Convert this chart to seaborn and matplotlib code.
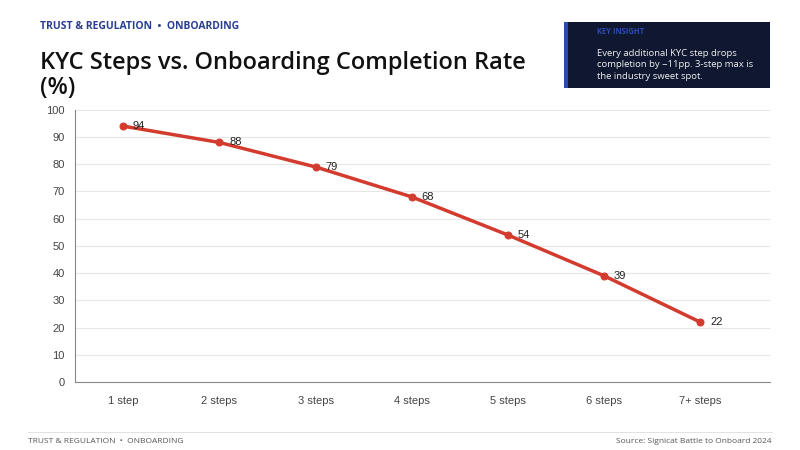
import pandas as pd
import matplotlib.pyplot as plt
import seaborn as sns
from matplotlib.patches import Rectangle

steps = ['1 step', '2 steps', '3 steps', '4 steps', '5 steps', '6 steps', '7+ steps']
completion = [94, 88, 79, 68, 54, 39, 22]

df = pd.DataFrame({'step': steps, 'rate': completion})
df['pos'] = range(len(steps))

sns.set_style('white')
plt.rcParams['font.family'] = ['Open Sans', 'DejaVu Sans']

fig = plt.figure(figsize=(8, 4.5), dpi=100)
ax = fig.add_axes([0.094, 0.151, 0.868, 0.605])

sns.lineplot(data=df, x='pos', y='rate', ax=ax, color='#d23b2e', linewidth=2.5,
             marker='o', markersize=5, markeredgecolor='#d23b2e')
for p, v in zip(df['pos'], df['rate']):
    ax.text(p + 0.1, v, str(v), va='center', ha='left', fontsize=8,
            family='Liberation Sans', color='#222222')

ax.set_xlim(-0.5, 6.72)
ax.set_ylim(0, 100)
ax.set_yticks(range(0, 101, 10))
ax.set_xticks(df['pos'])
ax.set_xticklabels(steps)
ax.set_xlabel('')
ax.set_ylabel('')
ax.grid(axis='y', color='#e6e6e6', linewidth=0.8)
for s in ['top', 'right']:
    ax.spines[s].set_visible(False)
for s in ['left', 'bottom']:
    ax.spines[s].set_color('#888888')
    ax.spines[s].set_linewidth(0.8)
ax.tick_params(axis='both', labelsize=8, colors='#444444', length=4, width=0.6)
for lab in ax.get_xticklabels() + ax.get_yticklabels():
    lab.set_family('Liberation Sans')
ax.tick_params(axis='x', pad=6)

fig.text(0.05, 0.935, 'TRUST & REGULATION  •  ONBOARDING', fontsize=7.5,
         color='#2a3f8f', weight='bold')
fig.text(0.05, 0.79, 'KYC Steps vs. Onboarding Completion Rate\n(%)', fontsize=17,
         color='#111111', weight='semibold', linespacing=1.1)

# insight box
fig.patches.append(Rectangle((0.705, 0.805), 0.258, 0.145, transform=fig.transFigure,
                             facecolor='#0f1830', edgecolor='none'))
fig.patches.append(Rectangle((0.705, 0.805), 0.005, 0.145, transform=fig.transFigure,
                             facecolor='#2a4bb0', edgecolor='none'))
fig.text(0.746, 0.924, 'KEY INSIGHT', fontsize=5.5, color='#2a4bb0', weight='bold')
fig.text(0.746, 0.825, 'Every additional KYC step drops\ncompletion by ~11pp. 3-step max is\nthe industry sweet spot.',
         fontsize=6.8, color='#f0f0f0', linespacing=1.35)

fig.add_artist(plt.Line2D([0.035, 0.965], [0.04, 0.04], transform=fig.transFigure,
                          color='#dddddd', linewidth=0.6))
fig.text(0.035, 0.015, 'TRUST & REGULATION  •  ONBOARDING', fontsize=6, color='#555555')
fig.text(0.965, 0.015, 'Source: Signicat Battle to Onboard 2024', fontsize=6,
         color='#555555', ha='right')

fig.savefig('out.png', dpi=100)
